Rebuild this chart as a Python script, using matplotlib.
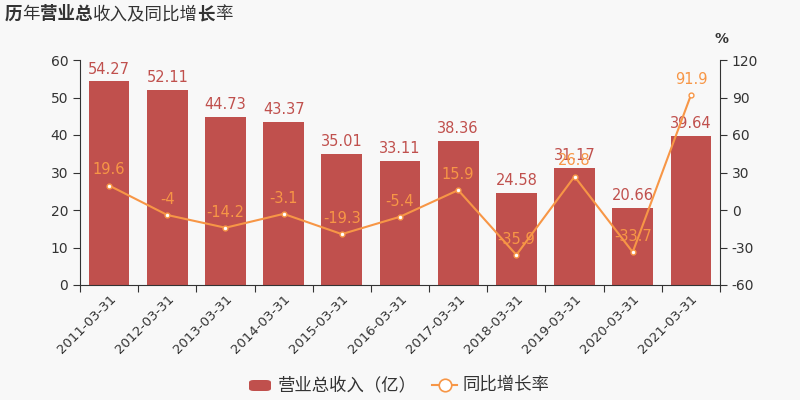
import matplotlib.pyplot as plt
from matplotlib.lines import Line2D
from matplotlib.patches import FancyBboxPatch

plt.rcParams['font.family'] = ['Noto Sans CJK SC', 'DejaVu Sans']
plt.rcParams['axes.unicode_minus'] = False

dates = ['2011-03-31', '2012-03-31', '2013-03-31', '2014-03-31', '2015-03-31',
         '2016-03-31', '2017-03-31', '2018-03-31', '2019-03-31', '2020-03-31',
         '2021-03-31']
revenue = [54.27, 52.11, 44.73, 43.37, 35.01, 33.11, 38.36, 24.58, 31.17, 20.66, 39.64]
growth = [19.6, -4, -14.2, -3.1, -19.3, -5.4, 15.9, -35.9, 26.8, -33.7, 91.9]
rev_labels = ['54.27', '52.11', '44.73', '43.37', '35.01', '33.11', '38.36',
              '24.58', '31.17', '20.66', '39.64']
gr_labels = ['19.6', '-4', '-14.2', '-3.1', '-19.3', '-5.4', '15.9', '-35.9',
             '26.8', '-33.7', '91.9']

bg = '#f8f8f8'
red = '#c0504d'
orange = '#f79646'
dark = '#333333'

fig = plt.figure(figsize=(8, 4), dpi=100, facecolor=bg)
ax = fig.add_axes([0.1, 0.2875, 0.8, 0.5625])
ax.set_facecolor(bg)
ax2 = ax.twinx()

x = list(range(len(dates)))
ax.bar(x, revenue, width=0.7, color=red, zorder=2)
for i, v in enumerate(revenue):
    ax.text(i, v + 1.3, rev_labels[i], ha='center', va='bottom', color=red, fontsize=10.5,
            family='DejaVu Sans')

ax2.plot(x, growth, color=orange, lw=1.5, marker='o', ms=3.5, mfc='white',
         mec=orange, mew=1, zorder=3)
for i, v in enumerate(growth):
    ax2.text(i, v + 6.5, gr_labels[i], ha='center', va='bottom', color=orange,
             fontsize=10.5, family='DejaVu Sans')

ax.set_xlim(-0.5, len(dates) - 0.5)
ax.set_ylim(0, 60)
ax.set_yticks(range(0, 61, 10))
ax2.set_ylim(-60, 120)
ax2.set_yticks(range(-60, 121, 30))

ax.set_xticks([i - 0.5 for i in range(len(dates) + 1)])
ax.set_xticklabels([])
ax.set_xticks(x, minor=True)
ax.set_xticklabels(dates, minor=True, rotation=45, ha='right', rotation_mode='anchor',
                   fontsize=9.5, color=dark, family='DejaVu Sans')
ax.tick_params(axis='x', which='minor', length=0, pad=5)
ax.tick_params(axis='x', which='major', length=5, color=dark)

for a in (ax, ax2):
    a.spines['top'].set_visible(False)
    for s in ('left', 'right', 'bottom'):
        a.spines[s].set_color(dark)
    a.tick_params(axis='y', length=5, colors=dark, labelsize=10)
ax.spines['right'].set_visible(False)
ax2.spines['left'].set_visible(False)
ax2.spines['bottom'].set_visible(False)
for lab in ax.get_yticklabels() + ax2.get_yticklabels():
    lab.set_family('DejaVu Sans')

fig.text(0.893, 0.902, '%', ha='left', va='center', fontsize=10, color=dark,
         family='DejaVu Sans', weight='bold')

# title with mixed weights
parts = [('历', 'bold'), ('年', 'normal'), ('营业总', 'bold'), ('收入及同比增', 'normal'),
         ('长', 'bold'), ('率', 'normal')]
fs_px = 17.5
xpos = 5
for txt, w in parts:
    fig.text(xpos / 800, 1 - 14 / 400, txt, ha='left', va='center', fontsize=fs_px * 0.72,
             weight=w, color=dark)
    xpos += fs_px * len(txt)

# legend
fig.patches.append(FancyBboxPatch((249 / 800, 1 - 391 / 400), 22 / 800, 11 / 400,
                                  boxstyle='round,pad=0,rounding_size=0.006',
                                  transform=fig.transFigure, facecolor=red,
                                  edgecolor='none'))
fig.text(278 / 800, 1 - 385 / 400, '营业总收入（亿）', ha='left', va='center', fontsize=12.5,
         color=dark)
fig.lines.append(Line2D([432 / 800, 457 / 800], [1 - 385 / 400] * 2, color=orange, lw=1.5,
                        transform=fig.transFigure))
fig.lines.append(Line2D([444.5 / 800], [1 - 385 / 400], color=orange, marker='o', ms=9,
                        mfc='white', mec=orange, mew=1.2, transform=fig.transFigure))
fig.text(463 / 800, 1 - 385 / 400, '同比增长率', ha='left', va='center', fontsize=12.5,
         color=dark)

fig.savefig('out.png', dpi=100, facecolor=bg)
